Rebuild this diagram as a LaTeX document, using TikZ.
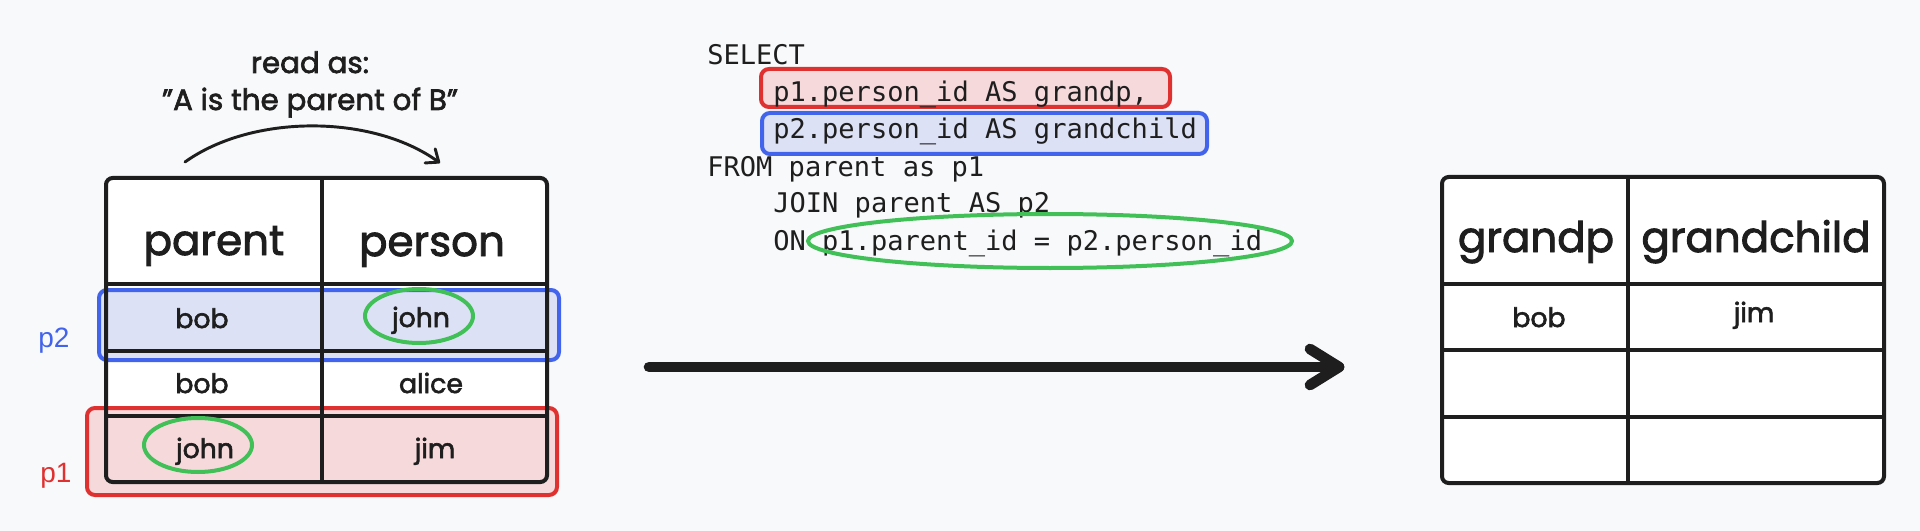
\documentclass[tikz,border=0pt]{standalone}
\usepackage{fontspec}
\setmainfont{Poppins}[FakeBold=2.2]
\newfontfamily\codefont{DejaVu Sans Mono}
\newfontfamily\labelfont{Liberation Sans}
\usetikzlibrary{arrows.meta}
\definecolor{bg}{RGB}{248,249,251}
\definecolor{ink}{RGB}{30,30,30}
\definecolor{hblue}{RGB}{66,99,235}
\definecolor{hbluefill}{RGB}{221,225,246}
\definecolor{hred}{RGB}{224,49,49}
\definecolor{hredfill}{RGB}{246,217,219}
\definecolor{hgreen}{RGB}{64,192,87}
\tikzset{
  hdr/.style={font=\fontsize{31.5}{38}\selectfont, anchor=base, inner sep=0pt, text=ink},
  cell/.style={font=\fontsize{20}{24}\selectfont, anchor=base, inner sep=0pt, text=ink},
  note/.style={font=\fontsize{22}{26}\selectfont, anchor=base, inner sep=0pt, text=ink},
  code/.style={font=\codefont\fontsize{20.3}{24}\selectfont, anchor=base west, inner sep=0pt, text=ink},
  plabel/.style={font=\labelfont\fontsize{21}{25}\selectfont, anchor=base, inner sep=0pt},
  tableframe/.style={draw=ink, line width=3pt, rounded corners=5pt},
  tableline/.style={draw=ink, line width=2.6pt},
  bluebox/.style={fill=hbluefill, draw=hblue, line width=3pt, rounded corners=6pt},
  redbox/.style={fill=hredfill, draw=hred, line width=3pt, rounded corners=6pt},
  greenring/.style={draw=hgreen, line width=3pt},
}
\begin{document}
\begin{tikzpicture}[x=0.75pt,y=-0.75pt]
\useasboundingbox (0,0) rectangle (1920,531);
\fill[bg] (0,0) rectangle (1920,531);

% table fills
\fill[white, rounded corners=5pt] (106,178) rectangle (547,482);
\fill[white, rounded corners=5pt] (1442,177) rectangle (1884,483);

% highlight boxes (left table)
\path[bluebox] (99,290) rectangle (559,360);
\path[redbox] (87,408) rectangle (557,495);

% left table lines
\path[tableframe] (106,178) rectangle (547,482);
\path[tableline] (322,178) -- (322,482);
\path[tableline] (106,284) -- (547,284);
\path[tableline] (106,351) -- (547,351);
\path[tableline] (106,416) -- (547,416);

% right table lines
\path[tableframe] (1442,177) rectangle (1884,483);
\path[tableline] (1628,177) -- (1628,483);
\path[tableline] (1442,284) -- (1884,284);
\path[tableline] (1442,350) -- (1884,350);
\path[tableline] (1442,417) -- (1884,417);

% note above left table
\node[note] (readas) at (310,73) {read as:};
\node[note] (readq) at (310,110) {"A is the parent of B"};
\coordinate (arcS) at (185,162);
\coordinate (arcE) at (440,163);
\draw[ink, line width=2.2pt, line cap=round, -{Straight Barb[length=8pt,width=13pt,line cap=round,line join=round]}] (arcS) .. controls (252,114) and (372,114) .. (arcE);

% left table text
\node[hdr] (hparent) at (214,255) {parent};
\node[hdr] (hperson) at (432,256) {person};
\node[cell] (c11) at (202,328) {bob};
\node[cell] (c12) at (421,327) {john};
\node[cell] (c21) at (202,393) {bob};
\node[cell] (c22) at (431,393) {alice};
\node[cell] (c31) at (205,458) {john};
\node[cell] (c32) at (435,458) {jim};

% green rings on left table
\draw[greenring] (419,316) ellipse [x radius=54, y radius=27];
\draw[greenring] (198,445) ellipse [x radius=54, y radius=27];

% p labels
\node[plabel, text=hblue] (p2lab) at (54,347) {p2};
\node[plabel, text=hred] (p1lab) at (56,482) {p1};

% SQL highlights
\path[redbox] (761,69) rectangle (1170,107);
\path[bluebox] (762,113) rectangle (1207,154);

% SQL code
\node[code] (s1) at (707,65) {SELECT};
\node[code] (s2) at (773,102) {p1.person\_id AS grandp,};
\node[code] (s3) at (773,139) {p2.person\_id AS grandchild};
\node[code] (s4) at (707,176) {FROM parent as p1};
\node[code] (s5) at (773,213) {JOIN parent AS p2};
\node[code] (s6) at (773,250) {ON p1.parent\_id = p2.person\_id};
\draw[greenring] (1050,241) ellipse [x radius=242, y radius=27];

% big arrow
\coordinate (bigS) at (649,367);
\coordinate (bigE) at (1339,367);
\draw[ink, line width=8pt, line cap=round] (bigS) -- (bigE);
\draw[ink, line width=8pt, line cap=round, line join=round] ([shift={(-29,-18)}]bigE) -- (bigE) -- ([shift={(-29,18)}]bigE);

% right table text
\node[hdr] (hgrandp) at (1536,252) {grandp};
\node[hdr] (hgrandc) at (1756,252) {grandchild};
\node[cell] (r11) at (1539,327) {bob};
\node[cell] (r12) at (1754,322) {jim};
\end{tikzpicture}
\end{document}
